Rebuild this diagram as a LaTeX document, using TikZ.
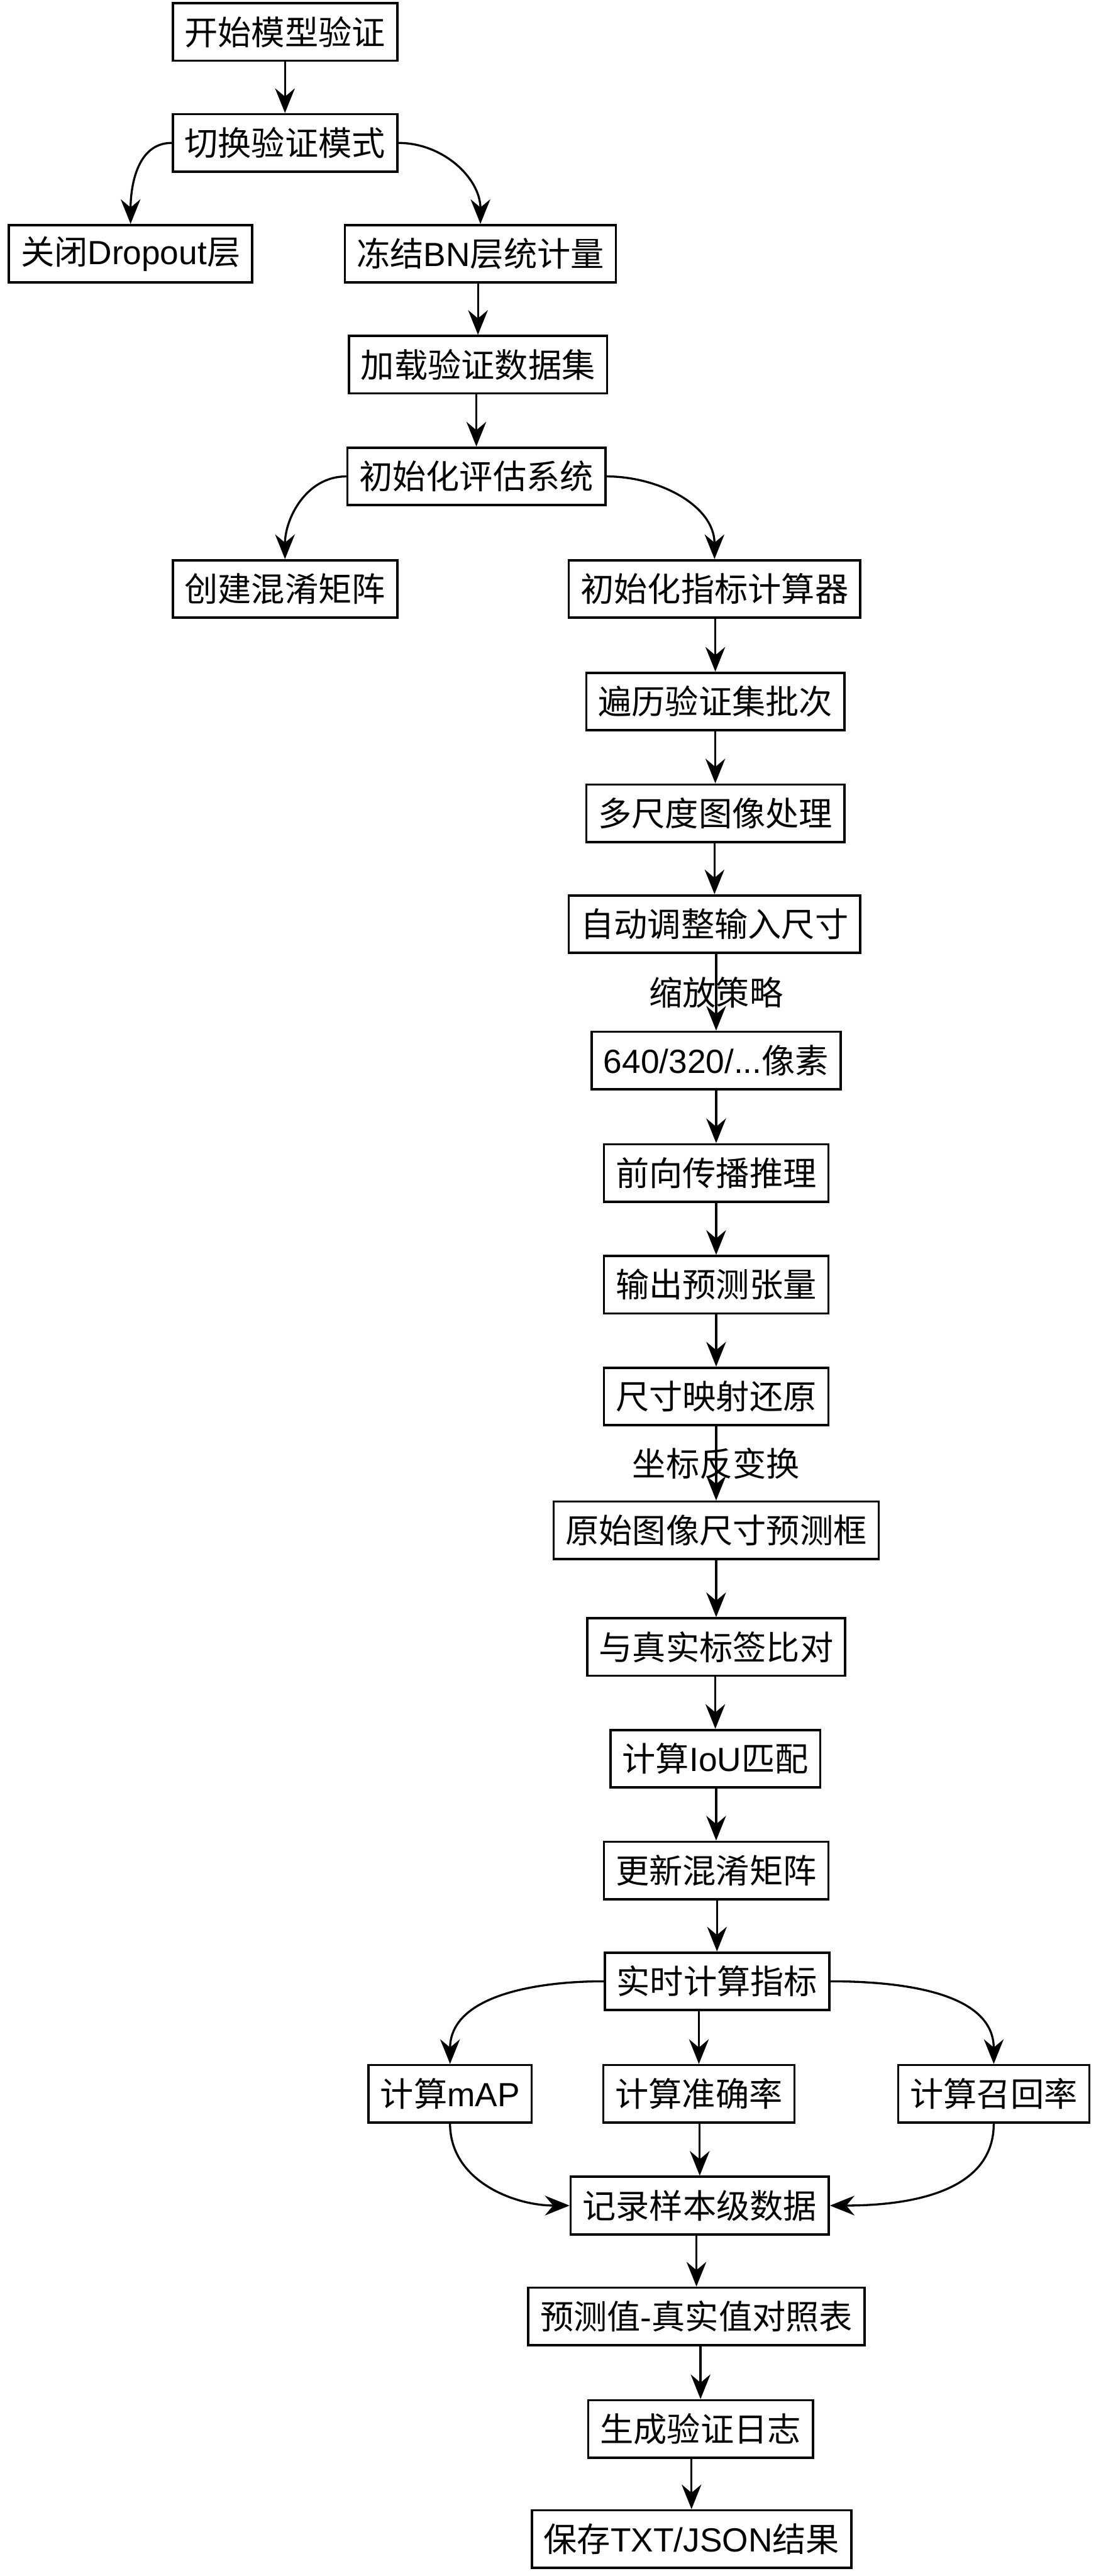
\documentclass[tikz,border=0pt]{standalone}
\usepackage{fontspec}
\setmainfont{Noto Sans CJK SC}
\newfontfamily\latfont{Liberation Sans}
\newcommand{\lat}[1]{{\latfont #1}}
\usetikzlibrary{arrows.meta}

\begin{document}
\begin{tikzpicture}[x=0.05cm,y=-0.05cm,>={Stealth[length=0.75cm,width=0.6cm,inset=0.25cm]},
  font=\fontsize{29}{34}\selectfont,line cap=round,
  box/.style={draw,line width=2pt,minimum height=1.75cm,inner xsep=0.36cm,inner ysep=0pt},
  flow/.style={->,line width=1.8pt}]
\useasboundingbox (0,0) rectangle (670,1568);
\node[box] (start) at (173.5,19.5) {开始模型验证};
\node[box] (evalmode) at (173.5,87) {切换验证模式};
\node[box] (dropout) at (79.5,154.5) {关闭\lat{Dropout}层};
\node[box] (freezebn) at (292.5,154.5) {冻结\lat{BN}层统计量};
\node[box] (loadval) at (291,222) {加载验证数据集};
\node[box] (initeval) at (290,290) {初始化评估系统};
\node[box] (confmat) at (173.5,358.5) {创建混淆矩阵};
\node[box] (initmet) at (435,358.5) {初始化指标计算器};
\node[box] (loopbatch) at (435.5,427) {遍历验证集批次};
\node[box] (multiscale) at (435.5,495) {多尺度图像处理};
\node[box] (autoresize) at (435,562.5) {自动调整输入尺寸};
\node[box] (pixels) at (436,645.5) {\lat{640/320/...}像素};
\node[box] (forward) at (436,714) {前向传播推理};
\node[box] (outtensor) at (436,782) {输出预测张量};
\node[box] (sizemap) at (436,850) {尺寸映射还原};
\node[box] (origbox) at (436,931.5) {原始图像尺寸预测框};
\node[box] (compare) at (436,1002.5) {与真实标签比对};
\node[box] (iou) at (435.5,1070.5) {计算\lat{IoU}匹配};
\node[box] (updcm) at (436,1138.5) {更新混淆矩阵};
\node[box] (rtmetric) at (436.5,1206) {实时计算指标};
\node[box] (map) at (274,1274.5) {计算\lat{mAP}};
\node[box] (acc) at (425.5,1274.5) {计算准确率};
\node[box] (recall) at (605,1274.5) {计算召回率};
\node[box] (logsample) at (426,1342.5) {记录样本级数据};
\node[box] (cmptable) at (424,1410) {预测值\lat{-}真实值对照表};
\node[box] (genlog) at (426.5,1478.5) {生成验证日志};
\node[box] (saveres) at (421,1545.5) {保存\lat{TXT/JSON}结果};
\draw[flow] (start) -- (evalmode);
\draw[flow] (evalmode.west) to[out=180,in=90] (dropout.north);
\draw[flow] (evalmode.east) to[out=0,in=90] (freezebn.north);
\draw[flow] (freezebn.south -| loadval) -- (loadval);
\draw[flow] (loadval.south -| initeval) -- (initeval);
\draw[flow] (initeval.west) to[out=180,in=90] (confmat.north);
\draw[flow] (initeval.east) to[out=0,in=90] (initmet.north);
\draw[flow] (initmet.south -| loopbatch) -- (loopbatch);
\draw[flow] (loopbatch) -- (multiscale);
\draw[flow] (multiscale.south -| autoresize) -- (autoresize);
\draw[flow] (autoresize.south -| pixels) -- node{缩放策略} (pixels);
\draw[flow] (pixels) -- (forward);
\draw[flow] (forward) -- (outtensor);
\draw[flow] (outtensor) -- (sizemap);
\draw[flow] (sizemap) -- node{坐标反变换} (origbox);
\draw[flow] (origbox) -- (compare);
\draw[flow] (compare.south -| iou) -- (iou);
\draw[flow] (iou.south -| updcm) -- (updcm);
\draw[flow] (updcm.south -| rtmetric) -- (rtmetric);
\draw[flow] (rtmetric.west) to[out=180,in=90] (map.north);
\draw[flow] (rtmetric.south -| acc) -- (acc);
\draw[flow] (rtmetric.east) to[out=0,in=90] (recall.north);
\draw[flow] (map.south) to[out=-90,in=180] (logsample.west);
\draw[flow] (acc.south -| logsample) -- (logsample);
\draw[flow] (recall.south) to[out=-90,in=0] (logsample.east);
\draw[flow] (logsample.south -| cmptable) -- (cmptable);
\draw[flow] (cmptable.south -| genlog) -- (genlog);
\draw[flow] (genlog.south -| saveres) -- (saveres);
\end{tikzpicture}
\end{document}
